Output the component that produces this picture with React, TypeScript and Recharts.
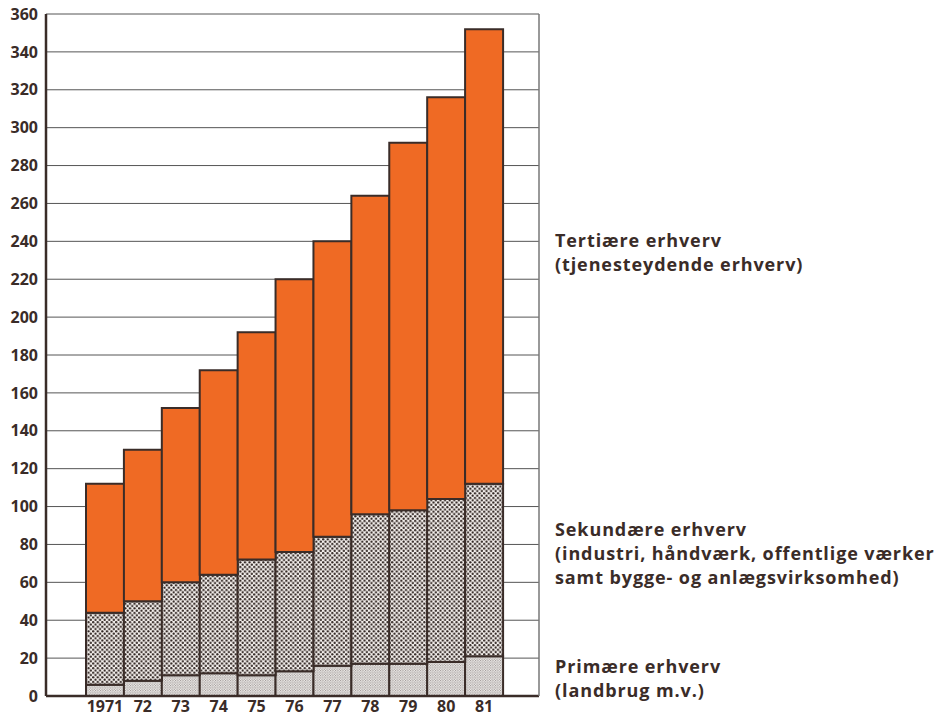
import React from 'react';
import { BarChart, Bar, XAxis, YAxis, CartesianGrid } from 'recharts';

const years = ['1971', '72', '73', '74', '75', '76', '77', '78', '79', '80', '81'];
// Primære erhverv (landbrug m.v.)
const primary = [6, 8, 11, 12, 11, 13, 16, 17, 17, 18, 21];
// Sekundære erhverv
const secondary = [38, 42, 49, 52, 61, 63, 68, 79, 81, 86, 91];
// Tertiære erhverv
const tertiary = [68, 80, 92, 108, 120, 144, 156, 168, 194, 212, 240];

const yTicks = [0, 20, 40, 60, 80, 100, 120, 140, 160, 180, 200, 220, 240, 260, 280, 300, 320, 340, 360];

const INK = '#3a2c28';
const ORANGE = '#ef6a24';
const FONT = '"Open Sans", Lato, sans-serif';

const data = years.map((year, i) => ({
  year,
  primary: primary[i],
  secondary: secondary[i],
  tertiary: tertiary[i],
}));

const labelStyle: React.CSSProperties = {
  position: 'absolute',
  left: 555,
  fontFamily: FONT,
  fontWeight: 700,
  fontSize: 18,
  letterSpacing: 0.9,
  lineHeight: '24px',
  color: INK,
  whiteSpace: 'nowrap',
};

export default function App() {
  return (
    <div style={{ position: 'relative', width: 939, height: 718, background: '#fff' }}>
      <style>{'body{margin:0}'}</style>
      <BarChart
        width={939}
        height={718}
        data={data}
        margin={{ top: 14, right: 399, bottom: 0, left: 0 }}
        barCategoryGap={0}
      >
        <defs>
          <pattern id="dotsDense" width="4.6" height="4.6" patternUnits="userSpaceOnUse">
            <rect width="4.6" height="4.6" fill="#f5f1ee" />
            <circle cx="1.15" cy="1.15" r="1.15" fill="#2e2320" />
            <circle cx="3.45" cy="3.45" r="1.15" fill="#2e2320" />
          </pattern>
          <pattern id="dotsFine" width="2.5" height="2.5" patternUnits="userSpaceOnUse">
            <rect width="2.5" height="2.5" fill="#efecea" />
            <circle cx="0.6" cy="0.6" r="0.5" fill="#7a7472" />
            <circle cx="1.85" cy="1.85" r="0.5" fill="#7a7472" />
          </pattern>
        </defs>
        <CartesianGrid vertical={false} stroke="#555" strokeWidth={1} />
        <XAxis
          dataKey="year"
          height={22}
          interval={0}
          padding={{ left: 40, right: 36 }}
          tickLine={false}
          tickSize={0}
          tickMargin={5}
          axisLine={{ stroke: INK, strokeWidth: 2.5 }}
          tick={{ fontSize: 16, fontWeight: 700, fill: INK, fontFamily: FONT }}
        />
        <XAxis
          xAxisId="top"
          orientation="top"
          dataKey="year"
          height={0}
          tick={false}
          tickLine={false}
          axisLine={{ stroke: INK, strokeWidth: 2.5 }}
        />
        <YAxis
          width={46}
          domain={[0, 360]}
          ticks={yTicks}
          interval={0}
          tickLine={false}
          axisLine={{ stroke: INK, strokeWidth: 2.5 }}
          tick={{ fontSize: 16, fontWeight: 700, fill: INK, fontFamily: FONT }}
        />
        <YAxis
          yAxisId="right"
          orientation="right"
          width={1}
          domain={[0, 360]}
          tick={false}
          tickLine={false}
          axisLine={{ stroke: '#777', strokeWidth: 1.5 }}
        />
        <Bar dataKey="primary" stackId="a" fill="url(#dotsFine)" stroke={INK} strokeWidth={2} isAnimationActive={false} />
        <Bar dataKey="secondary" stackId="a" fill="url(#dotsDense)" stroke={INK} strokeWidth={2} isAnimationActive={false} />
        <Bar dataKey="tertiary" stackId="a" fill={ORANGE} stroke={INK} strokeWidth={2} isAnimationActive={false} />
      </BarChart>

      <div style={{ ...labelStyle, top: 228 }}>
        Tertiære erhverv
        <br />
        (tjenesteydende erhverv)
      </div>
      <div style={{ ...labelStyle, top: 517 }}>
        Sekundære erhverv
        <br />
        (industri, håndværk, offentlige værker
        <br />
        samt bygge- og anlægsvirksomhed)
      </div>
      <div style={{ ...labelStyle, top: 654 }}>
        Primære erhverv
        <br />
        (landbrug m.v.)
      </div>
    </div>
  );
}
